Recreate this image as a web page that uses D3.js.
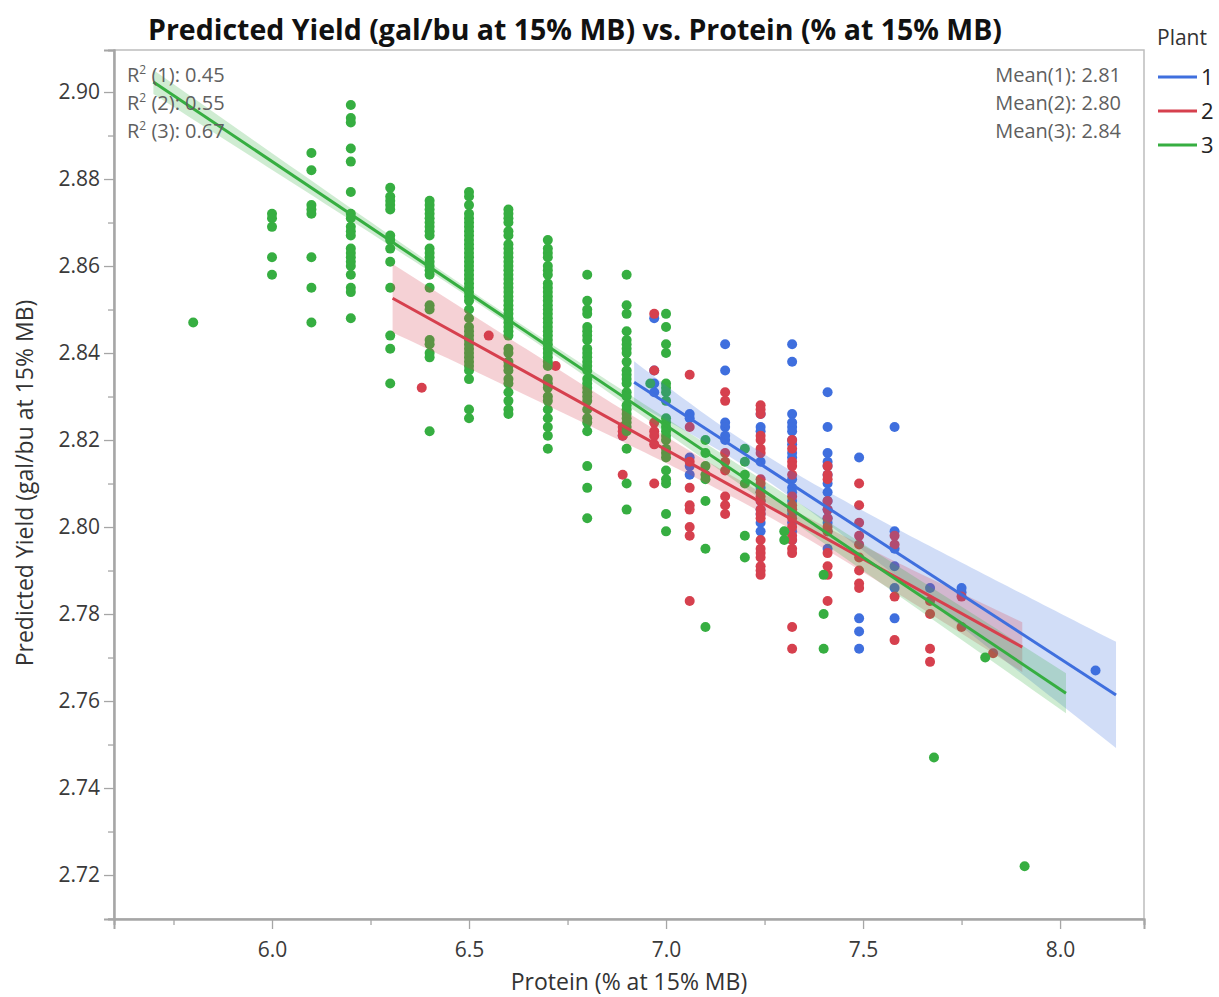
<!DOCTYPE html>
<html lang="en">
<head>
<meta charset="utf-8">
<title>Predicted Yield vs. Protein</title>
<script src="https://cdn.jsdelivr.net/npm/d3@7"></script>
<style>
  body { margin: 0; background: #fff; }
  text { font-family: "Open Sans", "Noto Sans", sans-serif; }
</style>
</head>
<body>
<script>
// ---- data ----
var plants = ["1", "2", "3"];
var colors = ["#3f6fde", "#d6404e", "#36ae41"];

// [protein, [yields...]] per column
var plant1Points = [
  [6.89, [2.821]],
  [6.97, [2.848, 2.836, 2.833, 2.831]],
  [7.06, [2.826, 2.825, 2.816, 2.814, 2.812]],
  [7.15, [2.842, 2.836, 2.824, 2.823, 2.821, 2.820]],
  [7.24, [2.826, 2.823, 2.822, 2.815, 2.809, 2.808, 2.806, 2.804, 2.803, 2.801, 2.799]],
  [7.32, [2.842, 2.838, 2.826, 2.824, 2.823, 2.822, 2.820, 2.819, 2.817, 2.816, 2.811, 2.809, 2.808, 2.806, 2.804, 2.803, 2.801, 2.799, 2.797]],
  [7.41, [2.831, 2.823, 2.817, 2.815, 2.814, 2.812, 2.810, 2.808, 2.806, 2.804, 2.802, 2.801, 2.799, 2.795]],
  [7.49, [2.816, 2.779, 2.776, 2.772]],
  [7.58, [2.823, 2.799, 2.795, 2.791, 2.786, 2.779]],
  [7.67, [2.786]],
  [7.75, [2.786, 2.785]],
  [8.09, [2.767]]
];
var plant2Points = [
  [6.38, [2.832]],
  [6.55, [2.844]],
  [6.72, [2.837]],
  [6.89, [2.823, 2.822, 2.821, 2.812]],
  [6.97, [2.849, 2.836, 2.824, 2.822, 2.821, 2.819, 2.810]],
  [7.06, [2.835, 2.823, 2.815, 2.809, 2.805, 2.804, 2.800, 2.798, 2.783]],
  [7.15, [2.831, 2.829, 2.817, 2.815, 2.813, 2.807, 2.805, 2.803]],
  [7.24, [2.828, 2.827, 2.826, 2.821, 2.820, 2.818, 2.817, 2.811, 2.810, 2.808, 2.807, 2.806, 2.804, 2.803, 2.802, 2.797, 2.795, 2.794, 2.793, 2.791, 2.790, 2.789]],
  [7.32, [2.820, 2.818, 2.815, 2.814, 2.812, 2.807, 2.805, 2.804, 2.802, 2.800, 2.798, 2.797, 2.795, 2.794, 2.777, 2.772]],
  [7.41, [2.814, 2.812, 2.811, 2.806, 2.804, 2.802, 2.800, 2.799, 2.794, 2.791, 2.789, 2.783]],
  [7.49, [2.810, 2.805, 2.801, 2.798, 2.796, 2.793, 2.790, 2.787, 2.786]],
  [7.58, [2.798, 2.796, 2.784, 2.774]],
  [7.67, [2.783, 2.780, 2.772, 2.769]],
  [7.75, [2.784, 2.777]],
  [7.83, [2.771]]
];
var plant3Points = [
  [5.8, [2.847]],
  [6.0, [2.872, 2.871, 2.869, 2.862, 2.858]],
  [6.1, [2.886, 2.882, 2.874, 2.873, 2.872, 2.862, 2.855, 2.847]],
  [6.2, [2.897, 2.894, 2.893, 2.887, 2.884, 2.877, 2.872, 2.871, 2.869, 2.868, 2.867, 2.864, 2.863, 2.862, 2.861, 2.860, 2.858, 2.855, 2.854, 2.848]],
  [6.3, [2.878, 2.876, 2.875, 2.874, 2.873, 2.867, 2.866, 2.864, 2.861, 2.855, 2.844, 2.841, 2.833]],
  [6.4, [2.875, 2.874, 2.873, 2.872, 2.871, 2.870, 2.869, 2.868, 2.867, 2.864, 2.863, 2.862, 2.861, 2.860, 2.859, 2.858, 2.855, 2.851, 2.850, 2.843, 2.842, 2.840, 2.839, 2.822]],
  [6.5, [2.877, 2.876, 2.874, 2.872, 2.871, 2.870, 2.869, 2.868, 2.867, 2.866, 2.865, 2.864, 2.863, 2.862, 2.861, 2.860, 2.859, 2.858, 2.857, 2.856, 2.855, 2.854, 2.853, 2.852, 2.850, 2.848, 2.846, 2.845, 2.844, 2.843, 2.842, 2.841, 2.840, 2.839, 2.838, 2.837, 2.836, 2.834, 2.827, 2.825]],
  [6.6, [2.873, 2.872, 2.871, 2.870, 2.868, 2.867, 2.865, 2.864, 2.863, 2.862, 2.861, 2.860, 2.859, 2.858, 2.857, 2.856, 2.855, 2.854, 2.853, 2.852, 2.851, 2.850, 2.849, 2.848, 2.847, 2.846, 2.845, 2.844, 2.841, 2.840, 2.838, 2.837, 2.836, 2.834, 2.833, 2.831, 2.829, 2.827, 2.826]],
  [6.7, [2.866, 2.864, 2.863, 2.862, 2.860, 2.859, 2.858, 2.856, 2.855, 2.854, 2.853, 2.852, 2.851, 2.850, 2.849, 2.848, 2.847, 2.846, 2.845, 2.844, 2.843, 2.842, 2.841, 2.840, 2.839, 2.838, 2.837, 2.834, 2.833, 2.832, 2.830, 2.829, 2.827, 2.825, 2.823, 2.821, 2.818]],
  [6.8, [2.858, 2.852, 2.850, 2.849, 2.846, 2.845, 2.844, 2.843, 2.841, 2.840, 2.839, 2.838, 2.837, 2.836, 2.834, 2.833, 2.832, 2.831, 2.830, 2.829, 2.827, 2.825, 2.824, 2.822, 2.814, 2.809, 2.802]],
  [6.9, [2.858, 2.851, 2.849, 2.845, 2.843, 2.842, 2.841, 2.840, 2.838, 2.836, 2.835, 2.834, 2.833, 2.831, 2.830, 2.828, 2.827, 2.826, 2.825, 2.824, 2.823, 2.822, 2.818, 2.810, 2.804]],
  [6.96, [2.833]],
  [7.0, [2.849, 2.846, 2.842, 2.840, 2.833, 2.832, 2.831, 2.829, 2.825, 2.824, 2.823, 2.822, 2.821, 2.820, 2.818, 2.817, 2.816, 2.813, 2.811, 2.810, 2.803, 2.799]],
  [7.1, [2.820, 2.817, 2.814, 2.812, 2.811, 2.806, 2.795, 2.777]],
  [7.2, [2.818, 2.815, 2.812, 2.810, 2.798, 2.793]],
  [7.3, [2.799, 2.797]],
  [7.4, [2.789, 2.780, 2.772]],
  [7.68, [2.747]],
  [7.81, [2.770]],
  [7.91, [2.722]]
];

// fitted lines and confidence band
var fitX0 = [6.919, 6.306, 5.699];
var fitX1 = [8.142, 7.904, 8.015];
var fitY0 = [2.8333, 2.8526, 2.9023];
var fitY1 = [2.7614, 2.7724, 2.7618];
var fitXMean = [7.22, 7.25, 6.55];
var bandMin = [0.0028, 0.0023, 0.0009];
var bandEnd = [0.0122, 0.0057, 0.0046];

var rSquared = ["0.45", "0.55", "0.67"];
var means = ["2.81", "2.80", "2.84"];

var xMajor = [6.0, 6.5, 7.0, 7.5, 8.0];
var xMinor = [5.75, 6.25, 6.75, 7.25, 7.75];
var yMajor = [2.72, 2.74, 2.76, 2.78, 2.80, 2.82, 2.84, 2.86, 2.88, 2.90];
var yMinor = [2.71, 2.73, 2.75, 2.77, 2.79, 2.81, 2.83, 2.85, 2.87, 2.89];

// ---- layout ----
var w = 1219, h = 997;
var plotL = 114, plotR = 1144, plotT = 50, plotB = 919;

var svg = d3.select("body").append("svg")
  .attr("width", w)
  .attr("height", h);

var x = d3.scaleLinear().domain([5.599, 8.213]).range([plotL, plotR]);
var y = d3.scaleLinear().domain([2.70989, 2.90966]).range([plotB, plotT]);

var allSeries = [plant1Points, plant2Points, plant3Points];

// frame
svg.append("rect")
  .attr("x", plotL).attr("y", plotT)
  .attr("width", plotR - plotL).attr("height", plotB - plotT)
  .attr("fill", "none").attr("stroke", "#bdbdbd").attr("stroke-width", 1.5);

svg.append("clipPath").attr("id", "clip")
  .append("rect").attr("x", plotL).attr("y", plotT)
  .attr("width", plotR - plotL).attr("height", plotB - plotT);
var inner = svg.append("g").attr("clip-path", "url(#clip)");

// points
allSeries.forEach(function(series, i) {
  var pts = [];
  series.forEach(function(col) {
    col[1].forEach(function(v) { pts.push([col[0], v]); });
  });
  inner.append("g").selectAll("circle")
    .data(pts)
    .enter()
    .append("circle")
    .attr("cx", function(d) { return x(d[0]); })
    .attr("cy", function(d) { return y(d[1]); })
    .attr("r", 5)
    .attr("fill", colors[i]);
});

// bands
function lineAt(i, xv) {
  var t = (xv - fitX0[i]) / (fitX1[i] - fitX0[i]);
  return fitY0[i] + t * (fitY1[i] - fitY0[i]);
}
function halfWidth(i, xv) {
  var d1 = fitX1[i] - fitXMean[i];
  var k = (bandEnd[i] * bandEnd[i] - bandMin[i] * bandMin[i]) / (d1 * d1);
  var dx = xv - fitXMean[i];
  return Math.sqrt(bandMin[i] * bandMin[i] + k * dx * dx);
}

plants.forEach(function(p, i) {
  var xs = d3.range(0, 81).map(function(j) {
    return fitX0[i] + (fitX1[i] - fitX0[i]) * j / 80;
  });
  var area = d3.area()
    .x(function(d) { return x(d); })
    .y0(function(d) { return y(lineAt(i, d) - halfWidth(i, d)); })
    .y1(function(d) { return y(lineAt(i, d) + halfWidth(i, d)); });
  inner.append("path")
    .attr("d", area(xs))
    .attr("fill", colors[i])
    .attr("fill-opacity", 0.24);
});

// fit lines
plants.forEach(function(p, i) {
  inner.append("line")
    .attr("x1", x(fitX0[i])).attr("y1", y(fitY0[i]))
    .attr("x2", x(fitX1[i])).attr("y2", y(fitY1[i]))
    .attr("stroke", colors[i])
    .attr("stroke-width", 3);
});

// axes
var yAxis = d3.axisLeft(y).tickValues(yMajor).tickFormat(d3.format(".2f"))
  .tickSize(10).tickPadding(4);
var gy = svg.append("g").attr("transform", "translate(" + plotL + ",0)").call(yAxis);
var gyMinor = svg.append("g").attr("transform", "translate(" + plotL + ",0)")
  .call(d3.axisLeft(y).tickValues(yMinor).tickFormat("").tickSize(6));

var xAxis = d3.axisBottom(x).tickValues(xMajor).tickFormat(d3.format(".1f"))
  .tickSize(10).tickPadding(13);
var gx = svg.append("g").attr("transform", "translate(0," + plotB + ")").call(xAxis);
var gxMinor = svg.append("g").attr("transform", "translate(0," + plotB + ")")
  .call(d3.axisBottom(x).tickValues(xMinor).tickFormat("").tickSize(6));

[gy, gyMinor, gx, gxMinor].forEach(function(g) {
  g.select(".domain").attr("stroke", "#a6a6a6").attr("stroke-width", 2);
  g.selectAll(".tick line").attr("stroke", "#a6a6a6").attr("stroke-width", 1.3);
  g.selectAll(".tick text")
    .attr("fill", "#3a3a3a")
    .attr("font-size", "21px")
    .attr("font-family", "'Open Sans', sans-serif");
});

// titles
svg.append("text")
  .attr("x", 575).attr("y", 40)
  .attr("text-anchor", "middle")
  .attr("font-size", "28.5px")
  .attr("font-weight", "bold")
  .attr("fill", "#111")
  .text("Predicted Yield (gal/bu at 15% MB) vs. Protein (% at 15% MB)");

svg.append("text")
  .attr("x", 629).attr("y", 990)
  .attr("text-anchor", "middle")
  .attr("font-size", "23px")
  .attr("fill", "#333")
  .text("Protein (% at 15% MB)");

svg.append("text")
  .attr("transform", "translate(33,483) rotate(-90)")
  .attr("text-anchor", "middle")
  .attr("font-size", "23px")
  .attr("fill", "#333")
  .text("Predicted Yield (gal/bu at 15% MB)");

// annotations
var rText = svg.append("g");
rSquared.forEach(function(r, i) {
  var t = rText.append("text")
    .attr("x", 127).attr("y", 82 + i * 28)
    .attr("font-size", "20px")
    .attr("fill", "#5f5f5f");
  t.append("tspan").text("R");
  t.append("tspan").attr("font-size", "12px").attr("dy", -8).text("2");
  t.append("tspan").attr("dy", 8).text(" (" + plants[i] + "): " + r);
});
means.forEach(function(m, i) {
  svg.append("text")
    .attr("x", 1121).attr("y", 82 + i * 28)
    .attr("text-anchor", "end")
    .attr("font-size", "20px")
    .attr("fill", "#5f5f5f")
    .text("Mean(" + plants[i] + "): " + m);
});

// legend
var legend = svg.append("g");
legend.append("text")
  .attr("x", 1157).attr("y", 45)
  .attr("font-size", "21px")
  .attr("fill", "#333")
  .text("Plant");
plants.forEach(function(p, i) {
  legend.append("line")
    .attr("x1", 1158).attr("x2", 1197)
    .attr("y1", 77 + i * 34).attr("y2", 77 + i * 34)
    .attr("stroke", colors[i]).attr("stroke-width", 3);
  legend.append("text")
    .attr("x", 1201).attr("y", 85 + i * 34)
    .attr("font-size", "22px")
    .attr("fill", "#222")
    .text(p);
});
</script>
</body>
</html>
